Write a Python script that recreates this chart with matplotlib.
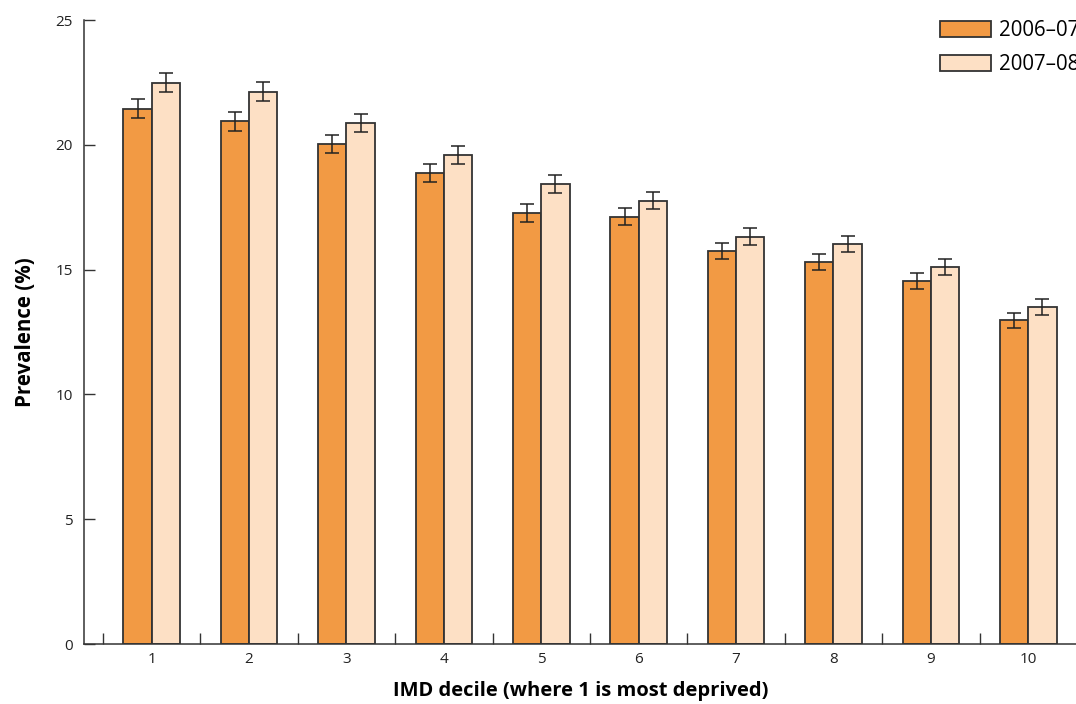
import numpy as np
import matplotlib
matplotlib.use('Agg')
import matplotlib.pyplot as plt

plt.rcParams['font.family'] = ['Open Sans', 'DejaVu Sans']

deciles = [1, 2, 3, 4, 5, 6, 7, 8, 9, 10]
prev_0607 = [21.45, 20.95, 20.03, 18.87, 17.27, 17.11, 15.75, 15.30, 14.54, 12.98]
prev_0708 = [22.48, 22.12, 20.87, 19.59, 18.43, 17.75, 16.31, 16.03, 15.10, 13.50]
err_0607 = [0.38, 0.38, 0.36, 0.35, 0.35, 0.34, 0.33, 0.32, 0.31, 0.30]
err_0708 = [0.38, 0.38, 0.36, 0.35, 0.35, 0.34, 0.34, 0.33, 0.32, 0.31]
labels = ['2006\u201307', '2007\u201308']

fig = plt.figure(figsize=(10.76, 7.04), dpi=100)
ax = fig.add_axes([84/1076, 60/704, 993/1076, 624/704])

x = np.array(deciles, dtype=float)
w = 0.29
ekw = dict(ecolor='#222222', elinewidth=1.1, capsize=4.7, capthick=1.1)
ax.bar(x - w/2, prev_0607, w, color='#f29a44', edgecolor='#333333', linewidth=1.3,
       yerr=err_0607, error_kw=ekw, label=labels[0])
ax.bar(x + w/2, prev_0708, w, color='#fde0c5', edgecolor='#333333', linewidth=1.3,
       yerr=err_0708, error_kw=ekw, label=labels[1])

ax.set_xlim(0.305, 10.5)
ax.set_ylim(0, 25)
ax.set_yticks([0, 5, 10, 15, 20, 25])
ax.set_xticks(x)
ax.set_xticklabels([str(d) for d in deciles])
ax.set_xticks(np.arange(0.5, 10.6, 1.0), minor=True)
ax.tick_params(axis='x', which='major', length=0, labelsize=11, pad=6, colors='#222222')
ax.tick_params(axis='x', which='minor', direction='in', length=8, width=1, color='#333333')
ax.tick_params(axis='y', direction='in', length=8, width=1, labelsize=11, pad=8,
               color='#333333', labelcolor='#222222')
for s in ['top', 'right']:
    ax.spines[s].set_visible(False)
for s in ['left', 'bottom']:
    ax.spines[s].set_color('#333333')
    ax.spines[s].set_linewidth(1.1)

ax.set_ylabel('Prevalence (%)', fontsize=14.8, fontweight='bold', labelpad=14)
ax.set_xlabel('IMD decile (where 1 is most deprived)', fontsize=14.5, fontweight='bold', labelpad=10)

fig.legend(loc='upper left', bbox_to_anchor=(932/1076, 1 - 12/704), frameon=False,
           fontsize=14.8, handlelength=2.45, handleheight=0.83, handletextpad=0.4,
           labelspacing=0.62, borderaxespad=0)

fig.savefig('out.png', dpi=100)
